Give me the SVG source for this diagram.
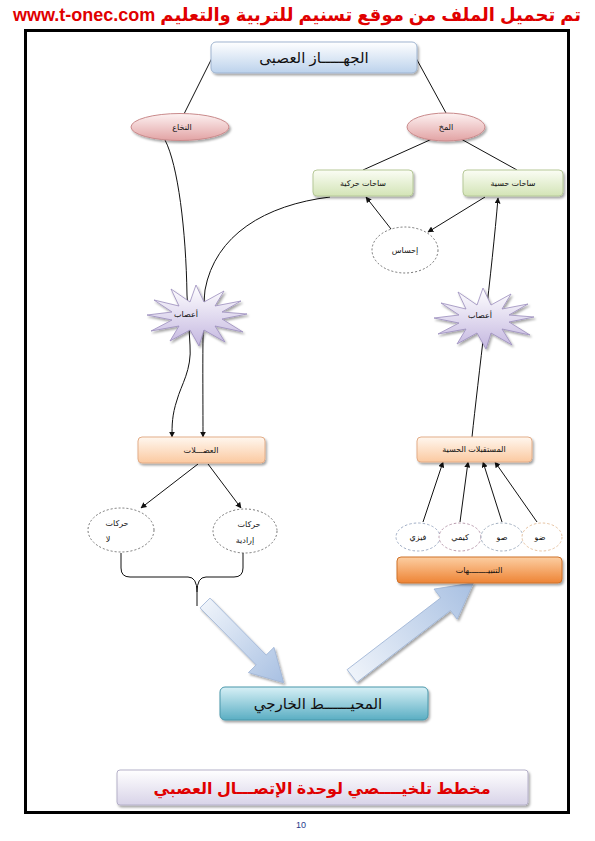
<svg xmlns="http://www.w3.org/2000/svg" width="595" height="841" viewBox="0 0 595 841">
<defs>
<style>
.ar{font-family:"Liberation Sans","DejaVu Sans",sans-serif;fill:#111;text-anchor:middle;direction:rtl}
.s8{font-size:8px}
.s9{font-size:9px}
.s14{font-size:15px}
.ln{fill:none;stroke:#111;stroke-width:1}
.arw{fill:none;stroke:#111;stroke-width:1;marker-end:url(#ah)}
</style>
<marker id="ah" viewBox="0 0 10 10" refX="9" refY="5" markerWidth="6" markerHeight="6" orient="auto-start-reverse" markerUnits="userSpaceOnUse">
<path d="M0,0 L10,5 L0,10 z" fill="#111"/>
</marker>
<filter id="sh" x="-10%" y="-20%" width="130%" height="160%">
<feDropShadow dx="1.5" dy="2" stdDeviation="1.2" flood-color="#000" flood-opacity="0.35"/>
</filter>
<linearGradient id="gBlue" x1="0" y1="0" x2="0" y2="1"><stop offset="0" stop-color="#ffffff"/><stop offset="1" stop-color="#bcd2ec"/></linearGradient>
<linearGradient id="gPink" x1="0" y1="0" x2="0" y2="1"><stop offset="0" stop-color="#fdf2f2"/><stop offset="1" stop-color="#e2a3a4"/></linearGradient>
<linearGradient id="gGreen" x1="0" y1="0" x2="0" y2="1"><stop offset="0" stop-color="#fbfdf5"/><stop offset="1" stop-color="#d3e4b6"/></linearGradient>
<linearGradient id="gPeach" x1="0" y1="0" x2="0" y2="1"><stop offset="0" stop-color="#fff7ef"/><stop offset="1" stop-color="#fbc9a0"/></linearGradient>
<linearGradient id="gOrange" x1="0" y1="0" x2="0" y2="1"><stop offset="0" stop-color="#fccea2"/><stop offset="1" stop-color="#ee8435"/></linearGradient>
<linearGradient id="gTeal" x1="0" y1="0" x2="0" y2="1"><stop offset="0" stop-color="#d7f0f6"/><stop offset="1" stop-color="#5aaec3"/></linearGradient>
<linearGradient id="gTitle" x1="0" y1="0" x2="0" y2="1"><stop offset="0" stop-color="#ffffff"/><stop offset="1" stop-color="#d8d3e8"/></linearGradient>
<linearGradient id="gStar" x1="0" y1="0" x2="0" y2="1"><stop offset="0" stop-color="#ffffff"/><stop offset="1" stop-color="#c4b7e0"/></linearGradient>
<linearGradient id="gArrow" x1="0" y1="0" x2="1" y2="0"><stop offset="0" stop-color="#eef3fa"/><stop offset="1" stop-color="#a8c0e2"/></linearGradient>
<polygon id="star" points="50,-2 25,3 46,16 18,10 28,26 7,14 2,30 -7,14 -27,25 -18,10 -46,15 -25,4 -50,-1 -25,-4 -43,-16 -18,-10 -26,-27 -7,-14 -1,-31 7,-14 27,-25 18,-10 44,-15 25,-4"/>
</defs>

<rect width="595" height="841" fill="#ffffff"/>

<text x="297" y="21" font-family="Liberation Sans,DejaVu Sans,sans-serif" font-size="18" font-weight="bold" fill="#e00000" text-anchor="middle" direction="rtl">تم تحميل الملف من موقع تسنيم للتربية والتعليم www.t-onec.com</text>

<rect x="25.5" y="30.5" width="543" height="782" fill="none" stroke="#000" stroke-width="3"/>

<g id="connectors">
<path class="ln" d="M212,58 L184,114"/>
<path class="ln" d="M416,58 L446,113"/>
<path class="ln" d="M432,139 L363,170"/>
<path class="ln" d="M461,139 L517,170"/>
<path class="arw" d="M165,140 C178,165 186,230 187,295 L190,345 C192,370 181,385 177,400 C172,415 172,425 172,437"/>
<path class="arw" d="M330,197 C265,205 215,235 205,290 C202,320 203,380 203,437"/>
<path class="arw" d="M472,437 C478,380 492,270 498,198"/>
<path class="arw" d="M485,197 L428,232"/>
<path class="arw" d="M391,229 L366,197"/>
<path class="arw" d="M198,464 L141,508"/>
<path class="arw" d="M208,464 L241,508"/>
<path class="arw" d="M423,522 L443,462"/>
<path class="arw" d="M460,522 L468,462"/>
<path class="arw" d="M502,522 L483,462"/>
<path class="arw" d="M537,522 L495,462"/>
<path class="ln" d="M121,553 L121,568 Q121,577 130,577 L188,577 Q197,577 197,592 L197,606 M197,592 Q197,577 206,577 L234,577 Q243,577 243,568 L243,553"/>
</g>

<g id="arrow-down" filter="url(#sh)">
<polygon transform="translate(205,603) rotate(45.4)" points="0,-7 80,-7 80,-18 112,0 80,18 80,7 0,7" fill="url(#gArrow)" stroke="#9fb5d6" stroke-width="0.8"/>
</g>
<g id="arrow-up" filter="url(#sh)">
<polygon transform="translate(352,676) rotate(-37.5)" points="0,-8 118,-8 118,-19 153,0 118,19 118,8 0,8" fill="url(#gArrow)" stroke="#9fb5d6" stroke-width="0.8"/>
</g>

<g id="node-nervous-system">
<rect x="211" y="42" width="206" height="31" rx="5" fill="url(#gBlue)" stroke="#9fb4d0" filter="url(#sh)"/>
<text class="ar s14" x="314" y="63">الجهـــــاز العصبى</text>
</g>

<g id="node-spinal-cord">
<ellipse cx="180" cy="127" rx="49" ry="13.5" fill="url(#gPink)" stroke="#c98a8b" filter="url(#sh)"/>
<text class="ar s8" x="182" y="130">النخاع</text>
</g>

<g id="node-brain">
<ellipse cx="446" cy="127" rx="39" ry="14" fill="url(#gPink)" stroke="#c98a8b" filter="url(#sh)"/>
<text class="ar s8" x="446" y="130">المخ</text>
</g>

<g id="node-motor-areas">
<rect x="313" y="170" width="100" height="26" rx="4" fill="url(#gGreen)" stroke="#b6c898" filter="url(#sh)"/>
<text class="ar s8" x="363" y="186">ساحات حركية</text>
</g>

<g id="node-sensory-areas">
<rect x="463" y="170" width="100" height="26" rx="4" fill="url(#gGreen)" stroke="#b6c898" filter="url(#sh)"/>
<text class="ar s8" x="513" y="186">ساحات حسية</text>
</g>

<g id="node-sensation">
<ellipse cx="405" cy="250" rx="33" ry="23" fill="#ffffff" stroke="#555" stroke-width="0.8" stroke-dasharray="2,2"/>
<text class="ar s8" x="405" y="253">إحساس</text>
</g>

<g id="node-nerves-left">
<use href="#star" transform="translate(197,316)" fill="url(#gStar)" stroke="#9a8dbd" stroke-width="0.8" filter="url(#sh)"/>
<text class="ar s8" x="186" y="317">أعصاب</text>
</g>

<g id="node-nerves-right">
<use href="#star" transform="translate(484,319)" fill="url(#gStar)" stroke="#9a8dbd" stroke-width="0.8" filter="url(#sh)"/>
<text class="ar s8" x="480" y="318">أعصاب</text>
</g>

<g id="node-muscles">
<rect x="138" y="437" width="127" height="26" rx="4" fill="url(#gPeach)" stroke="#e3ad88" filter="url(#sh)"/>
<text class="ar s8" x="201" y="453">العضـــلات</text>
</g>

<g id="node-involuntary">
<ellipse cx="121" cy="530" rx="33" ry="22" fill="#ffffff" stroke="#555" stroke-width="0.8" stroke-dasharray="2,2"/>
<text class="ar s8" x="117" y="526">حركات</text>
<text class="ar s8" x="108" y="542">لا</text>
</g>

<g id="node-voluntary">
<ellipse cx="245" cy="531" rx="32" ry="22" fill="#ffffff" stroke="#555" stroke-width="0.8" stroke-dasharray="2,2"/>
<text class="ar s8" x="249" y="527">حركات</text>
<text class="ar s8" x="245" y="543">إرادية</text>
</g>

<g id="node-receptors">
<rect x="417" y="437" width="115" height="25" rx="4" fill="url(#gPeach)" stroke="#e3ad88" filter="url(#sh)"/>
<text class="ar s8" x="474" y="452">المستقبلات الحسية</text>
</g>

<g id="node-physical">
<ellipse cx="418" cy="537" rx="22" ry="14" fill="#ffffff" stroke="#8a9ab8" stroke-width="0.8" stroke-dasharray="2.5,2"/>
<text class="ar s8" x="418" y="540">فيزي</text>
</g>
<g id="node-chemical">
<ellipse cx="460" cy="537" rx="21" ry="14" fill="#ffffff" stroke="#a8849a" stroke-width="0.8" stroke-dasharray="2.5,2"/>
<text class="ar s8" x="460" y="540">كيمي</text>
</g>
<g id="node-sound">
<ellipse cx="502" cy="537" rx="21" ry="14" fill="#ffffff" stroke="#8a9ab0" stroke-width="0.8" stroke-dasharray="2.5,2"/>
<text class="ar s8" x="502" y="540">صو</text>
</g>
<g id="node-light">
<ellipse cx="542" cy="537" rx="20" ry="14" fill="#ffffff" stroke="#e0b48a" stroke-width="0.8" stroke-dasharray="2.5,2"/>
<text class="ar s8" x="540" y="540">ضو</text>
</g>

<g id="node-stimuli">
<rect x="397" y="557" width="165" height="26" rx="4" fill="url(#gOrange)" stroke="#cf722a" filter="url(#sh)"/>
<text class="ar s8" x="479" y="573">التنبيــــــــهات</text>
</g>

<g id="node-environment">
<rect x="220" y="687" width="208" height="33" rx="5" fill="url(#gTeal)" stroke="#4996aa" filter="url(#sh)"/>
<text class="ar s14" x="318" y="709">المحيــــــط الخارجي</text>
</g>

<g id="title">
<rect x="117" y="770" width="411" height="35" rx="3" fill="url(#gTitle)" stroke="#b5b0c8" filter="url(#sh)"/>
<text x="322" y="794" font-family="Liberation Sans,DejaVu Sans,sans-serif" font-size="16" font-weight="bold" fill="#e00000" text-anchor="middle" direction="rtl">مخطط تلخيــــصي لوحدة الإتصـــال العصبي</text>
</g>

<text x="301" y="828" font-family="Liberation Sans,DejaVu Sans,sans-serif" font-size="9" fill="#1f3a8a" text-anchor="middle">10</text>
</svg>
